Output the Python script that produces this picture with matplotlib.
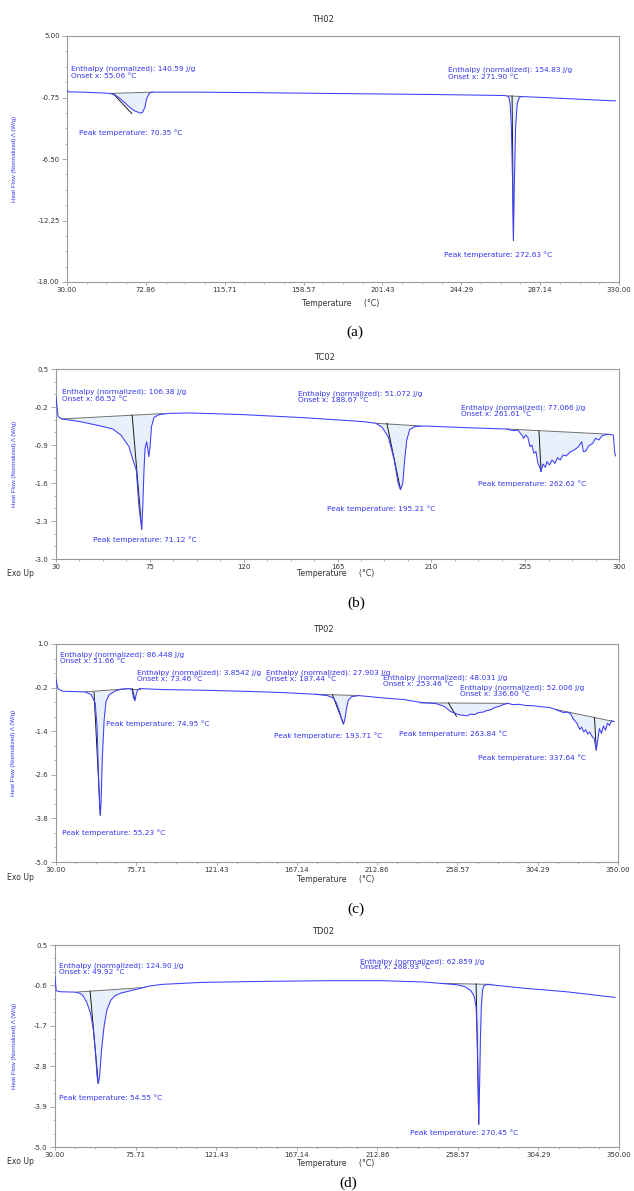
import numpy as np
import matplotlib
matplotlib.use("Agg")
import matplotlib.pyplot as plt
from matplotlib.ticker import AutoMinorLocator

plt.rcParams['font.family'] = ['DejaVu Sans']

# ---------------- data ----------------
# Panel (a) TH02
a_T = [30.0, 30.6, 40, 50, 53.4, 56, 58.8, 61.5, 64.2, 67, 69.7, 70.35, 71.1, 72.4, 73.3, 74.7, 76,
       90, 102, 150, 200, 229.5, 262, 268, 270, 270.8, 271.5, 272.2, 272.63, 273.1, 273.8, 274.7,
       275.8, 277, 290, 310, 328]
a_v = [-0.05, -0.22, -0.26, -0.33, -0.375, -0.5, -0.84, -1.25, -1.69, -2.02, -2.19, -2.2, -2.13, -1.63,
       -0.84, -0.375, -0.25, -0.25, -0.25, -0.33, -0.42, -0.47, -0.55, -0.57, -0.65, -1.3, -3.5, -9.0,
       -14.1, -9.0, -3.5, -1.3, -0.75, -0.66, -0.76, -0.92, -1.07]
a_base = [(53.4, -0.37, 76.5, -0.25), (269.5, -0.6, 277.5, -0.66)]
a_tan = [(55.06, -0.38, 65.2, -2.25), (271.90, -0.6, 272.63, -14.1)]

# Panel (b) TC02
b_T = [30.0, 31.0, 32.9, 41.7, 51.4, 57.2, 61.1, 65.0, 66.9, 68.5, 69.8, 71.12, 71.6, 72.2, 72.7, 73.5,
       74.5, 75.1, 75.8, 77.0, 79.5, 84.4, 94.1, 119.4, 148.5, 177.6, 183.4, 186.4, 189.3, 192.2, 194.1,
       195.21, 196.3, 197.2, 198.2, 199.6, 201.9, 206.8, 226.2, 245.6, 249.5, 251.4, 253.4, 254.3, 255.3,
       256.3, 257.3, 258.2, 259.2, 260.2, 261.1, 261.9, 262.62, 263.5, 264.7, 265.4, 266.6, 267.9, 269.3,
       270.5, 271.8, 273.2, 274.7, 276.7, 278.6, 280.6, 282.1, 282.9, 284.1, 285.4, 287.4, 288.7, 290.3,
       291.8, 293.2, 294.7, 296.5, 297.3, 297.9, 298.3]
b_v = [-0.01, -0.378, -0.421, -0.47, -0.55, -0.605, -0.716, -0.93, -1.176, -1.36, -2.036, -2.45, -2.04,
       -1.36, -0.96, -0.84, -1.115, -0.93, -0.56, -0.39, -0.34, -0.317, -0.31, -0.34, -0.396, -0.47, -0.50,
       -0.574, -0.746, -1.176, -1.606, -1.72, -1.606, -1.176, -0.81, -0.62, -0.56, -0.55, -0.58, -0.605,
       -0.636, -0.624, -0.716, -0.777, -0.716, -0.759, -0.93, -0.90, -1.053, -1.023, -1.238, -1.30, -1.39,
       -1.25, -1.31, -1.207, -1.268, -1.176, -1.238, -1.133, -1.176, -1.084, -1.10, -1.023, -0.99, -0.93,
       -0.84, -1.023, -1.01, -0.918, -0.87, -0.777, -0.808, -0.734, -0.716, -0.70, -0.71, -0.716, -1.023,
       -1.10]
b_base = [(32.9, -0.42, 82.0, -0.32), (183.4, -0.50, 205.0, -0.55), (246.0, -0.605, 294.7, -0.70)]
b_tan = [(66.52, -0.35, 71.12, -2.45), (188.67, -0.50, 195.21, -1.72), (261.61, -0.64, 262.62, -1.39)]

# Panel (c) TP02
c_T = [30.0, 31.1, 33.9, 46.6, 50.0, 52.3, 53.4, 54.1, 54.8, 55.23, 55.7, 56.4, 57.4, 58.5, 60.3, 63.8,
       67.2, 72.3, 73.4, 74.1, 74.95, 75.5, 76.4, 77.6, 90.2, 113.2, 136.2, 159.2, 177.6, 184.5, 187.9,
       189.5, 191.4, 192.8, 193.71, 194.4, 195.3, 196.4, 198.3, 202.4, 216.7, 228.2, 237.4, 246.6, 251.2,
       254.6, 256.9, 259.2, 261.5, 263.84, 266.1, 268.4, 270.7, 273.0, 275.3, 277.6, 279.9, 282.2, 284.5,
       287.5, 290.2, 293.7, 297.1, 301.7, 306.3, 310.9, 314.4, 316.7, 319.0, 321.3, 322.9, 324.7, 326.6,
       328.2, 329.3, 330.5, 331.6, 332.8, 333.9, 335.3, 336.4, 337.64, 338.5, 339.4, 340.6, 341.7, 342.9,
       344.0, 345.2, 346.3, 347.7]
c_v = [0.025, -0.235, -0.30, -0.318, -0.393, -0.625, -1.275, -2.48, -3.41, -3.71, -3.32, -2.11, -1.09,
       -0.58, -0.393, -0.29, -0.244, -0.226, -0.272, -0.486, -0.55, -0.42, -0.272, -0.226, -0.253, -0.272,
       -0.30, -0.337, -0.383, -0.42, -0.486, -0.606, -0.857, -1.09, -1.20, -1.09, -0.81, -0.55, -0.45,
       -0.42, -0.486, -0.53, -0.606, -0.643, -0.718, -0.857, -0.903, -0.94, -0.96, -0.978, -0.93, -0.94,
       -0.885, -0.876, -0.83, -0.81, -0.746, -0.718, -0.67, -0.634, -0.67, -0.66, -0.69, -0.70, -0.727,
       -0.746, -0.80, -0.848, -0.885, -0.876, -0.92, -1.07, -1.18, -1.35, -1.29, -1.42, -1.36, -1.48,
       -1.42, -1.55, -1.60, -1.92, -1.63, -1.33, -1.46, -1.26, -1.37, -1.18, -1.24, -1.11, -1.135]
c_base = [(46.6, -0.318, 72.3, -0.226), (72.3, -0.226, 77.6, -0.226), (177.6, -0.383, 202.4, -0.42),
          (237.4, -0.62, 287.5, -0.634), (314.4, -0.80, 347.7, -1.135)]
c_tan = [(51.66, -0.33, 55.23, -3.71), (73.46, -0.226, 74.95, -0.55), (187.44, -0.40, 193.71, -1.20),
         (253.46, -0.625, 258.0, -0.99), (336.60, -1.02, 337.64, -1.92)]

# Panel (d) TD02
d_T = [30.0, 30.7, 33.0, 41.0, 43.3, 45.6, 47.9, 50.2, 51.8, 53.0, 53.9, 54.55, 55.3, 56.4, 57.8, 59.4,
       61.7, 64.0, 67.4, 74.3, 83.5, 90.4, 113.4, 147.8, 182.3, 216.8, 239.7, 248.9, 258.1, 262.7, 266.1,
       267.8, 268.9, 269.6, 270.1, 270.45, 270.9, 271.4, 271.9, 272.6, 273.5, 275.4, 278.8, 297.2, 308.6,
       320.1, 331.6, 347.7]
d_v = [-0.364, -0.745, -0.773, -0.782, -0.80, -0.864, -1.045, -1.364, -1.818, -2.455, -3.09, -3.27,
       -3.09, -2.364, -1.727, -1.273, -1.0, -0.882, -0.809, -0.727, -0.618, -0.573, -0.518, -0.491,
       -0.473, -0.473, -0.509, -0.545, -0.582, -0.636, -0.755, -0.891, -1.18, -2.0, -3.364, -4.38,
       -3.364, -2.0, -1.18, -0.727, -0.60, -0.573, -0.591, -0.682, -0.727, -0.773, -0.836, -0.927]
d_base = [(42.2, -0.782, 81.2, -0.655), (248.9, -0.545, 277.6, -0.573)]
d_tan = [(49.92, -0.76, 54.55, -3.27), (268.93, -0.56, 270.45, -4.38)]

# tick labels
a_xt = ["30.00", "72.86", "115.71", "158.57", "201.43", "244.29", "287.14", "330.00"]
a_yt = ["5.00", "-0.75", "-6.50", "-12.25", "-18.00"]
b_xt = ["30", "75", "120", "165", "210", "255", "300"]
b_yt = ["0.5", "-0.2", "-0.9", "-1.6", "-2.3", "-3.0"]
c_xt = ["30.00", "75.71", "121.43", "167.14", "212.86", "258.57", "304.29", "350.00"]
c_yt = ["1.0", "-0.2", "-1.4", "-2.6", "-3.8", "-5.0"]
d_xt = c_xt
d_yt = ["0.5", "-0.6", "-1.7", "-2.8", "-3.9", "-5.0"]

# annotations: (T, value, text)
a_notes = [(32.2, 1.93, "Enthalpy (normalized): 140.59 J/g"), (32.2, 1.24, "Onset x: 55.06 °C"),
           (237.0, 1.81, "Enthalpy (normalized): 154.83 J/g"), (237.0, 1.12, "Onset x: 271.90 °C"),
           (36.6, -4.06, "Peak temperature: 70.35 °C"), (234.8, -15.47, "Peak temperature: 272.63 °C")]
b_notes = [(32.9, 0.074, "Enthalpy (normalized): 106.38 J/g"), (32.9, -0.06, "Onset x: 66.52 °C"),
           (146.2, 0.037, "Enthalpy (normalized): 51.072 J/g"), (146.2, -0.077, "Onset x: 188.67 °C"),
           (224.2, -0.21, "Enthalpy (normalized): 77.066 J/g"), (224.2, -0.325, "Onset x: 261.61 °C"),
           (47.9, -2.65, "Peak temperature: 71.12 °C"), (159.8, -2.08, "Peak temperature: 195.21 °C"),
           (232.4, -1.62, "Peak temperature: 262.62 °C")]
c_notes = [(32.3, 0.71, "Enthalpy (normalized): 86.448 J/g"), (32.3, 0.545, "Onset x: 51.66 °C"),
           (76.4, 0.22, "Enthalpy (normalized): 3.8542 J/g"), (76.4, 0.045, "Onset x: 73.46 °C"),
           (149.5, 0.20, "Enthalpy (normalized): 27.903 J/g"), (149.5, 0.036, "Onset x: 187.44 °C"),
           (216.2, 0.063, "Enthalpy (normalized): 48.031 J/g"), (216.2, -0.113, "Onset x: 253.46 °C"),
           (260.3, -0.206, "Enthalpy (normalized): 52.006 J/g"), (260.3, -0.382, "Onset x: 336.60 °C"),
           (58.5, -1.18, "Peak temperature: 74.95 °C"), (154.1, -1.53, "Peak temperature: 193.71 °C"),
           (225.4, -1.46, "Peak temperature: 263.84 °C"), (270.0, -2.13, "Peak temperature: 337.64 °C"),
           (33.2, -4.18, "Peak temperature: 55.23 °C")]
d_notes = [(32.3, -0.07, "Enthalpy (normalized): 124.90 J/g"), (32.3, -0.237, "Onset x: 49.92 °C"),
           (203.2, 0.055, "Enthalpy (normalized): 62.859 J/g"), (203.2, -0.11, "Onset x: 268.93 °C"),
           (32.3, -3.66, "Peak temperature: 54.55 °C"), (231.7, -4.61, "Peak temperature: 270.45 °C")]

# ---------------- styling ----------------
W, H = 634, 1191
BLUE = '#3d3dfa'
TXT_BLUE = '#3535f0'
FILL = '#e8f1fb'
GREY = '#6e6e6e'
SPINE = '#9a9a9a'
DARK = '#333333'

fig = plt.figure(figsize=(W / 100, H / 100), dpi=100)


def add_axes(l, r, t, b):
    return fig.add_axes([l / W, 1 - b / H, (r - l) / W, (b - t) / H])


def draw(ax, T, v, bases, tans, notes, xlim, ylim, xlabels, ylabels, ymin_n):
    T = np.asarray(T, float)
    v = np.asarray(v, float)
    for (t0, v0, t1, v1) in bases:
        m = (T >= t0) & (T <= t1)
        tt = T[m]
        bl = np.interp(tt, [t0, t1], [v0, v1])
        ax.fill_between(tt, v[m], bl, color=FILL, lw=0, zorder=1)
        ax.plot([t0, t1], [v0, v1], color=GREY, lw=0.7, zorder=2)
    for (t0, v0, t1, v1) in tans:
        ax.plot([t0, t1], [v0, v1], color='#1a1a1a', lw=0.7, zorder=3)
    ax.plot(T, v, color=BLUE, lw=0.75, zorder=4)
    for (x, y, s) in notes:
        ax.text(x, y, s, color=TXT_BLUE, fontsize=5.3, ha='left', va='center', zorder=5)
    ax.set_xlim(*xlim)
    ax.set_ylim(*ylim)
    xt = np.linspace(xlim[0], xlim[1], len(xlabels))
    yt = np.linspace(ylim[1], ylim[0], len(ylabels))
    ax.set_xticks(xt, xlabels)
    ax.set_yticks(yt, ylabels)
    ax.xaxis.set_minor_locator(AutoMinorLocator(4))
    ax.yaxis.set_minor_locator(AutoMinorLocator(ymin_n))
    ax.tick_params(axis='x', which='major', direction='out', length=2.5, width=0.6, color=SPINE,
                   labelsize=5.0, labelcolor=DARK, pad=1.2)
    ax.tick_params(axis='y', which='major', direction='out', length=3.5, width=0.6, color=SPINE,
                   labelsize=5.0, labelcolor=DARK, pad=1.8)
    ax.tick_params(which='minor', direction='out', length=1.6, width=0.5, color=SPINE)
    for s in ax.spines.values():
        s.set_color(SPINE)
        s.set_linewidth(0.8)


def ftext(x, y, s, **kw):
    fig.text(x / W, 1 - y / H, s, **kw)


axa = add_axes(67, 619, 36, 282)
draw(axa, a_T, a_v, a_base, a_tan, a_notes, (30, 330), (-18.0, 5.0), a_xt, a_yt, 4)
axb = add_axes(56, 619, 369, 559)
draw(axb, b_T, b_v, b_base, b_tan, b_notes, (30, 300), (-3.0, 0.5), b_xt, b_yt, 3)
axc = add_axes(56, 618, 644, 862)
draw(axc, c_T, c_v, c_base, c_tan, c_notes, (30, 350), (-5.0, 1.0), c_xt, c_yt, 3)
axd = add_axes(55, 619, 945, 1147)
draw(axd, d_T, d_v, d_base, d_tan, d_notes, (30, 350), (-5.0, 0.5), d_xt, d_yt, 3)

titles = [("TH02", 323, 20), ("TC02", 324, 357), ("TP02", 323, 630), ("TD02", 323, 931)]
for s, x, y in titles:
    ftext(x, y, s, fontsize=6.0, color=DARK, ha='center', va='center')

xlabels = [(341, 303), (336, 574), (336, 879), (336, 1163)]
for x, y in xlabels:
    ftext(x, y, "Temperature     (°C)", fontsize=5.6, color=DARK, ha='center', va='center')

ylab = [(15, 159), (15, 464), (14, 753), (15, 1046)]
for x, y in ylab:
    ftext(x, y, "Heat Flow (Normalized) Λ (W/g)", fontsize=4.4, color=TXT_BLUE, ha='center',
          va='center', rotation=90, family='Liberation Sans')

for y in (573, 877, 1161):
    ftext(7, y, "Exo Up", fontsize=5.6, color=DARK, ha='left', va='center')

caps = [("(a)", 355, 332), ("(b)", 356, 603), ("(c)", 356, 909), ("(d)", 348, 1183)]
for s, x, y in caps:
    ftext(x, y, s, fontsize=11, family='Liberation Serif', color='black', ha='center', va='center')

fig.savefig("out.png", dpi=100, facecolor='white')
